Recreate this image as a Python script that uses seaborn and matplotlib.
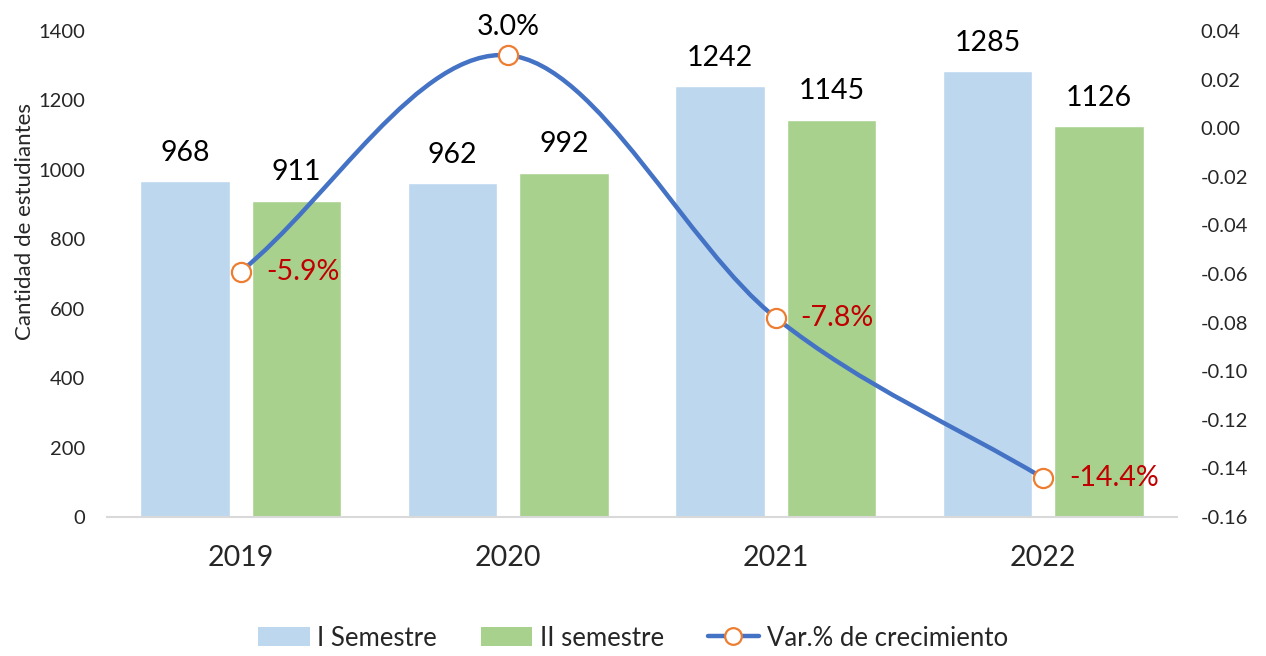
import matplotlib
matplotlib.use("Agg")
import matplotlib.pyplot as plt
import seaborn as sns
import numpy as np
import pandas as pd
from matplotlib.path import Path
from matplotlib.patches import PathPatch, Patch
from matplotlib.lines import Line2D

years = ["2019", "2020", "2021", "2022"]
sem1 = [968, 962, 1242, 1285]
sem2 = [911, 992, 1145, 1126]
growth = [-0.059, 0.030, -0.078, -0.144]
growth_labels = ["-5.9%", "3.0%", "-7.8%", "-14.4%"]
series_names = ["I Semestre", "II semestre", "Var.% de crecimiento"]
left_ticks = [0, 200, 400, 600, 800, 1000, 1200, 1400]
right_ticks = [-0.16, -0.14, -0.12, -0.10, -0.08, -0.06, -0.04, -0.02, 0.00, 0.02, 0.04]

c_sem1 = "#BDD7EE"
c_sem2 = "#A9D18E"
c_line = "#4472C4"
c_marker = "#ED7D31"
c_red = "#C00000"

sns.set_theme(style="white")
plt.rcParams["font.family"] = ["Lato", "DejaVu Sans"]

df = pd.DataFrame({
    "year": years * 2,
    "value": sem1 + sem2,
    "serie": [series_names[0]] * 4 + [series_names[1]] * 4,
})

fig = plt.figure(figsize=(12.66, 6.56), dpi=100)
ax = fig.add_axes([107 / 1266, 1 - 517 / 656, (1177 - 107) / 1266, (517 - 31) / 656])

sns.barplot(data=df, x="year", y="value", hue="serie", order=years,
            hue_order=series_names[:2], palette=[c_sem1, c_sem2],
            width=0.835, gap=0.2, ax=ax, legend=False, saturation=1)

for cont in ax.containers:
    ax.bar_label(cont, labels=[f"{int(v)}" for v in cont.datavalues],
                 padding=11, fontsize=20.5, color="black")

ax.set_ylim(0, 1400)
ax.set_yticks(left_ticks)
ax.set_yticklabels([str(t) for t in left_ticks], fontsize=14.5)
ax.set_xlim(-0.5, 3.5)
ax.set_xlabel("")
ax.set_ylabel("Cantidad de estudiantes", fontsize=16)
ax.yaxis.set_label_coords(-0.067, 0.609)
ax.tick_params(axis="y", length=0, pad=16)
ax.tick_params(axis="x", length=0, pad=20, labelsize=20.5)
for s in ["top", "right", "left"]:
    ax.spines[s].set_visible(False)
ax.spines["bottom"].set_color("#D9D9D9")
ax.spines["bottom"].set_linewidth(1.5)

ax2 = ax.twinx()
ax2.set_ylim(-0.16, 0.04)
ax2.set_yticks(right_ticks)
ax2.set_yticklabels([f"{t:.2f}".replace("-0.00", "0.00") for t in right_ticks], fontsize=14.5)
ax2.tick_params(axis="y", length=0, pad=17)
for s in ["top", "right", "left", "bottom"]:
    ax2.spines[s].set_visible(False)
ax2.set_xlim(-0.5, 3.5)

# smoothed line (Catmull-Rom style, like Excel's smoothed line)
xs = np.arange(len(growth), dtype=float)
ys = np.array(growth, dtype=float)
pts = np.column_stack([xs, ys])
n = len(pts)
tang = []
for i in range(n):
    if i == 0:
        tang.append(pts[1] - pts[0])
    elif i == n - 1:
        tang.append(pts[-1] - pts[-2])
    else:
        tang.append((pts[i + 1] - pts[i - 1]) / 2)
verts = [tuple(pts[0])]
codes = [Path.MOVETO]
for i in range(n - 1):
    c1 = pts[i] + tang[i] / 3
    c2 = pts[i + 1] - tang[i + 1] / 3
    verts += [tuple(c1), tuple(c2), tuple(pts[i + 1])]
    codes += [Path.CURVE4] * 3
ax2.add_patch(PathPatch(Path(verts, codes), facecolor="none", edgecolor=c_line,
                        linewidth=3.2, capstyle="round", zorder=3))
sns.scatterplot(x=xs, y=ys, ax=ax2, s=190, color="white", edgecolor=c_marker,
                linewidth=1.6, zorder=4, legend=False)

offsets = [(18, 0, "left", "center"), (0, 11, "center", "bottom"),
           (18, 0, "left", "center"), (19, 0, "left", "center")]
for x, y, lab, (dx, dy, ha, va) in zip(xs, ys, growth_labels, offsets):
    ax2.annotate(lab, (x, y), xytext=(dx, dy), textcoords="offset points",
                 ha=ha, va=va, fontsize=20.5, color=c_red if lab != "3.0%" else "black")

handles = [Patch(facecolor=c_sem1, edgecolor="none"),
           Patch(facecolor=c_sem2, edgecolor="none"),
           Line2D([0], [0], color=c_line, lw=3.2, marker="o", markersize=12,
                  markerfacecolor="white", markeredgecolor=c_marker, markeredgewidth=1.6)]
fig.legend(handles, series_names, loc="center", bbox_to_anchor=(0.5, 1 - 638 / 656),
           ncol=3, frameon=False, fontsize=18.5, handlelength=2.0, handleheight=0.75,
           columnspacing=1.7, handletextpad=0.3)

fig.savefig("out.png", dpi=100)
